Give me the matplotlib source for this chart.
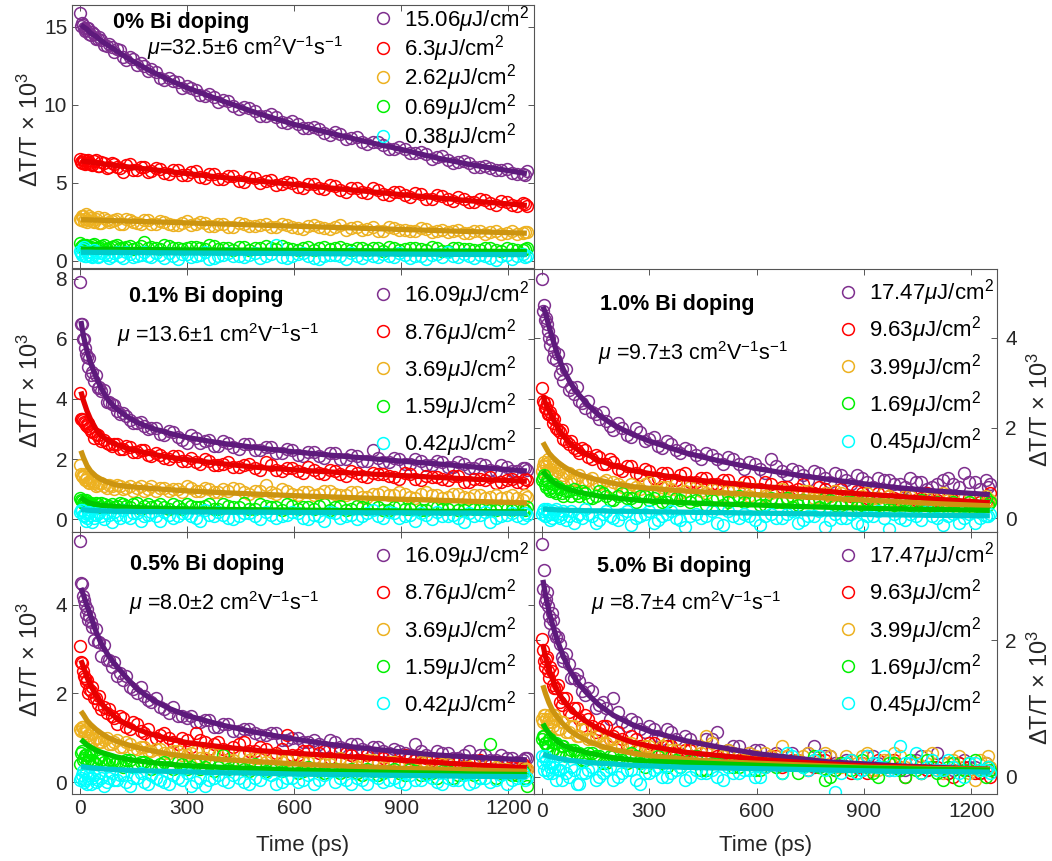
import matplotlib
matplotlib.use("Agg")
import matplotlib.pyplot as plt

plt.rcParams['font.family'] = ['Liberation Sans', 'DejaVu Sans']
plt.rcParams['mathtext.fontset'] = 'custom'
plt.rcParams['mathtext.rm'] = 'Liberation Sans'
plt.rcParams['mathtext.it'] = 'Liberation Sans:italic'
plt.rcParams['mathtext.bf'] = 'Liberation Sans:bold'

# Tiempos de los datos (dos rejillas intercaladas) y de los ajustes (ps)
t_data = [0, 6, 12, 18, 24, 30, 40, 50, 60, 75,
          90, 105, 120, 140, 160, 180, 200, 225, 250, 275,
          300, 325, 350, 375, 400, 430, 460, 490, 520, 550,
          580, 610, 640, 670, 700, 730, 760, 790, 820, 850,
          880, 910, 940, 970, 1000, 1030, 1060, 1090, 1120, 1150,
          1180, 1210, 1240, 1252]
t_data_b = [3, 9, 15, 21, 27, 35, 45, 55, 67, 82,
            97, 112, 130, 150, 170, 190, 212, 237, 262, 287,
            312, 337, 362, 387, 415, 445, 475, 505, 535, 565,
            595, 625, 655, 685, 715, 745, 775, 805, 835, 865,
            895, 925, 955, 985, 1015, 1045, 1075, 1105, 1135, 1165,
            1195, 1225, 1246]
t_fit = [3, 10, 20, 30, 45, 60, 80, 100, 130, 160, 200, 250, 300, 400, 500,
         600, 700, 800, 900, 1000, 1100, 1252]

# ---- 0% Bi ----
bi0_labels = ['15.06', '6.3', '2.62', '0.69', '0.38']
bi0_pur = [15.9, 15.25, 14.95, 14.8, 14.9, 14.5, 14.55, 14.2, 14.15, 13.75,
           13.7, 13.55, 13.1, 13.05, 12.55, 12.5, 12.3, 11.75, 11.7, 11.45,
           11.2, 10.95, 10.6, 10.5, 10.3, 9.9, 9.85, 9.6, 9.3, 9.25,
           8.85, 8.8, 8.5, 8.45, 8.1, 8.15, 7.85, 7.65, 7.6, 7.4,
           7.2, 7.15, 6.9, 6.85, 6.65, 6.45, 6.35, 6.25, 6.0, 5.95,
           5.8, 5.65, 5.55, 5.75]
bi0_pur_b = [15.05, 15.1, 14.75, 14.95, 14.55, 14.7, 14.25, 14.35, 13.85, 13.9,
             13.4, 13.5, 12.9, 12.95, 12.7, 12.15, 12.1, 11.6, 11.55, 11.1,
             11.1, 10.65, 10.7, 10.2, 10.25, 9.75, 9.8, 9.3, 9.4, 8.9,
             8.95, 8.5, 8.6, 8.2, 8.25, 7.8, 7.95, 7.5, 7.6, 7.2,
             7.3, 6.9, 7.0, 6.55, 6.7, 6.3, 6.4, 6.05, 6.1, 5.8,
             5.9, 5.6, 5.5]
bi0_red = [6.55, 6.3, 6.45, 6.25, 6.5, 6.2, 6.4, 6.1, 6.35, 5.95,
           6.25, 6.05, 5.7, 6.2, 5.85, 6.05, 5.75, 5.9, 5.55, 5.8,
           5.5, 5.75, 5.3, 5.6, 5.25, 5.45, 5.05, 5.3, 5.15, 4.85,
           5.05, 4.75, 4.95, 4.7, 4.85, 4.55, 4.7, 4.4, 4.65, 4.3,
           4.45, 4.2, 4.35, 4.0, 4.2, 3.95, 4.1, 3.8, 3.95, 3.7,
           3.85, 3.6, 3.7, 3.5]
bi0_red_b = [6.35, 6.5, 6.2, 6.4, 6.3, 6.15, 6.45, 6.1, 6.3, 6.05,
             6.2, 5.95, 6.15, 5.85, 6.05, 5.7, 5.95, 5.65, 5.85, 5.5,
             5.7, 5.4, 5.6, 5.25, 5.45, 5.1, 5.35, 5.0, 5.2, 4.9,
             5.0, 4.7, 4.9, 4.6, 4.8, 4.45, 4.65, 4.35, 4.55, 4.2,
             4.4, 4.1, 4.3, 3.95, 4.15, 3.85, 4.0, 3.75, 3.9, 3.6,
             3.8, 3.5, 3.65]
bi0_org = [2.7, 2.85, 2.55, 3.0, 2.6, 2.75, 2.5, 2.8, 2.45, 2.65,
           2.55, 2.7, 2.4, 2.6, 2.45, 2.65, 2.35, 2.55, 2.4, 2.3,
           2.55, 2.35, 2.45, 2.25, 2.4, 2.2, 2.35, 2.25, 2.4, 2.15,
           2.3, 2.1, 2.25, 2.2, 2.05, 2.3, 2.1, 2.0, 2.2, 1.95,
           2.1, 2.0, 1.9, 2.05, 1.95, 1.85, 2.0, 1.8, 1.95, 1.85,
           1.75, 1.9, 1.8, 1.85]
bi0_org_b = [2.6, 2.9, 2.7, 2.5, 2.85, 2.55, 2.7, 2.45, 2.75, 2.5,
             2.6, 2.4, 2.7, 2.5, 2.35, 2.6, 2.4, 2.5, 2.3, 2.45,
             2.3, 2.5, 2.25, 2.35, 2.2, 2.45, 2.25, 2.3, 2.15, 2.35,
             2.2, 2.05, 2.3, 2.1, 2.15, 2.0, 2.2, 2.05, 1.95, 2.15,
             2.0, 1.9, 2.1, 1.85, 2.0, 1.9, 1.8, 1.95, 1.75, 1.9,
             1.8, 1.7, 1.85]
bi0_grn = [1.15, 0.95, 0.8, 1.05, 0.85, 0.9, 1.1, 0.8, 0.95, 0.75,
           0.9, 1.0, 0.8, 0.95, 0.85, 1.2, 0.9, 0.75, 0.95, 0.85,
           0.8, 0.9, 0.75, 0.95, 0.85, 0.7, 0.9, 0.8, 0.95, 0.75,
           0.85, 0.7, 0.9, 0.8, 0.75, 0.9, 0.7, 0.85, 0.8, 0.65,
           0.85, 0.75, 0.8, 0.7, 0.85, 0.65, 0.8, 0.75, 0.7, 0.85,
           0.65, 0.75, 0.7, 0.8]
bi0_grn_b = [0.9, 1.0, 0.75, 0.95, 0.85, 1.0, 0.8, 0.9, 1.05, 0.85,
             0.95, 0.8, 0.9, 0.75, 0.95, 0.85, 0.8, 1.0, 0.85, 0.75,
             0.9, 0.8, 1.0, 0.75, 0.85, 0.9, 0.7, 0.85, 0.8, 0.95,
             0.75, 0.85, 0.7, 0.9, 0.8, 0.75, 0.85, 0.7, 0.8, 0.9,
             0.7, 0.8, 0.75, 0.9, 0.65, 0.8, 0.75, 0.7, 0.85, 0.7,
             0.8, 0.7, 0.75]
bi0_cyn = [0.65, 0.4, 0.9, 0.3, 0.55, 0.35, 0.7, 0.25, 0.5, 0.4,
           0.3, 0.6, 0.2, 0.45, 0.35, 0.55, 0.25, 0.4, 0.5, 0.15,
           0.45, 0.3, 0.55, 0.2, 0.4, 0.35, 0.25, 0.5, 0.3, 1.05,
           0.2, 0.45, 0.35, 0.1, 0.4, 0.3, 0.5, 0.2, 0.35, 0.45,
           0.25, 0.4, 0.3, 0.15, 0.45, 0.6, 0.25, 0.35, 0.4, 0.2,
           0.3, 0.1, 0.45, 0.35]
bi0_cyn_b = [0.5, 0.75, 0.3, 0.6, 0.4, 0.25, 0.55, 0.35, 0.45, 0.2,
             0.5, 0.3, 0.6, 0.25, 0.4, 0.3, 0.5, 0.2, 0.35, 0.45,
             0.25, 0.4, 0.15, 0.35, 0.5, 0.3, 0.4, 0.2, 0.45, 0.25,
             0.35, 0.5, 0.2, 0.3, 0.4, 0.15, 0.35, 0.45, 0.25, 0.3,
             0.5, 0.2, 0.35, 0.4, 0.25, 0.3, 0.45, 0.2, 0.35, 0.05,
             0.4, 0.3, 0.25]
bi0_pur_fit = [15.15, 15.0, 14.85, 14.6, 14.4, 14.1, 13.8, 13.5, 13.05, 12.65, 12.15,
               11.6, 11.1, 10.25, 9.45, 8.75, 8.2, 7.65, 7.15, 6.6, 6.15, 5.6]
bi0_red_fit = [6.4, 6.39, 6.36, 6.33, 6.29, 6.24, 6.18, 6.12, 6.04, 5.96, 5.86,
               5.73, 5.6, 5.35, 5.12, 4.9, 4.68, 4.47, 4.25, 4.05, 3.84, 3.56]
bi0_org_fit = [2.65, 2.64, 2.64, 2.63, 2.62, 2.61, 2.59, 2.58, 2.56, 2.54, 2.51,
               2.48, 2.44, 2.37, 2.3, 2.23, 2.16, 2.09, 2.02, 1.95, 1.88, 1.78]
bi0_grn_fit = [0.76, 0.76, 0.76, 0.76, 0.75, 0.75, 0.75, 0.75, 0.74, 0.74, 0.73,
               0.72, 0.71, 0.7, 0.69, 0.68, 0.66, 0.65, 0.64, 0.63, 0.62, 0.61]
bi0_cyn_fit = [0.56, 0.56, 0.56, 0.56, 0.55, 0.55, 0.55, 0.55, 0.54, 0.54, 0.53,
               0.52, 0.51, 0.5, 0.49, 0.48, 0.46, 0.45, 0.44, 0.43, 0.42, 0.41]

# ---- 0.1% Bi ----
bi01_labels = ['16.09', '8.76', '3.69', '1.59', '0.42']
bi01_pur = [7.9, 6.5, 6.0, 5.5, 5.05, 4.8, 4.6, 4.35, 4.25, 3.9,
            3.85, 3.6, 3.55, 3.3, 3.2, 3.1, 3.05, 2.85, 2.95, 2.75,
            2.55, 2.7, 2.6, 2.45, 2.6, 2.4, 2.5, 2.3, 2.4, 2.2,
            2.35, 2.15, 2.25, 2.1, 2.2, 2.0, 2.15, 1.95, 2.3, 1.9,
            2.05, 1.85, 2.0, 1.8, 1.95, 1.75, 1.9, 1.7, 1.85, 1.65,
            1.8, 1.6, 1.7, 1.65]
bi01_pur_b = [6.5, 6.0, 5.7, 5.4, 5.35, 4.9, 4.8, 4.4, 4.3, 3.9,
              3.8, 3.5, 3.45, 3.2, 3.25, 3.0, 3.05, 2.8, 2.9, 2.65,
              2.8, 2.55, 2.65, 2.45, 2.55, 2.35, 2.5, 2.3, 2.4, 2.2,
              2.3, 2.1, 2.25, 2.05, 2.2, 2.0, 2.1, 1.95, 2.05, 1.9,
              2.0, 1.85, 1.95, 1.8, 1.9, 1.75, 1.85, 1.7, 1.8, 1.6,
              1.75, 1.6, 1.7]
bi01_red = [4.2, 3.35, 3.25, 3.15, 3.2, 2.95, 2.7, 2.8, 2.6, 2.55,
            2.45, 2.5, 2.35, 2.4, 2.25, 2.3, 2.1, 2.15, 2.0, 2.1,
            1.95, 1.9, 2.0, 1.8, 1.85, 1.75, 1.8, 1.7, 1.9, 1.65,
            1.7, 1.6, 1.75, 1.55, 1.65, 1.5, 1.6, 1.45, 1.55, 1.5,
            1.4, 1.55, 1.35, 1.45, 1.4, 1.3, 1.45, 1.25, 1.35, 1.4,
            1.25, 1.35, 1.2, 1.3]
bi01_red_b = [3.35, 3.3, 3.2, 3.1, 3.05, 2.9, 2.85, 2.7, 2.65, 2.5,
              2.5, 2.35, 2.45, 2.25, 2.3, 2.15, 2.2, 2.05, 2.1, 1.95,
              2.05, 1.85, 1.95, 1.8, 1.9, 1.75, 1.85, 1.65, 1.8, 1.6,
              1.7, 1.55, 1.65, 1.5, 1.6, 1.45, 1.55, 1.4, 1.5, 1.45,
              1.35, 1.5, 1.3, 1.4, 1.35, 1.45, 1.25, 1.35, 1.3, 1.2,
              1.3, 1.25, 1.35]
bi01_org = [1.8, 1.45, 1.5, 1.35, 1.25, 1.3, 1.2, 1.15, 1.2, 1.05,
            1.1, 1.15, 1.0, 1.1, 1.05, 0.95, 1.1, 1.05, 0.95, 1.0,
            1.1, 0.95, 1.05, 0.9, 1.0, 1.05, 0.9, 0.95, 1.15, 0.85,
            0.95, 0.8, 0.9, 0.85, 0.95, 0.8, 0.9, 0.75, 0.85, 0.9,
            0.8, 0.85, 0.7, 0.9, 0.8, 0.75, 0.85, 0.7, 0.8, 0.75,
            0.7, 0.8, 0.65, 0.75]
bi01_org_b = [1.5, 1.4, 1.3, 1.4, 1.2, 1.25, 1.1, 1.2, 1.1, 1.15,
              1.0, 1.1, 1.05, 0.95, 1.1, 1.0, 0.95, 1.05, 1.0, 0.9,
              1.05, 0.95, 1.0, 0.9, 0.95, 1.0, 0.85, 0.95, 0.9, 1.0,
              0.85, 0.9, 0.8, 0.95, 0.85, 0.8, 0.9, 0.75, 0.85, 0.8,
              0.9, 0.75, 0.85, 0.8, 0.7, 0.85, 0.75, 0.8, 0.7, 0.8,
              0.75, 0.7, 0.8]
bi01_grn = [0.7, 0.6, 0.55, 0.65, 0.5, 0.55, 0.45, 0.5, 0.55, 0.4,
            0.5, 0.45, 0.5, 0.4, 0.55, 0.45, 0.4, 0.5, 0.35, 0.45,
            0.5, 0.4, 0.45, 0.35, 0.5, 0.4, 0.55, 0.35, 0.45, 0.4,
            0.5, 0.35, 0.4, 0.45, 0.3, 0.45, 0.35, 0.4, 0.5, 0.3,
            0.4, 0.35, 0.45, 0.3, 0.4, 0.35, 0.3, 0.45, 0.35, 0.3,
            0.4, 0.3, 0.35, 0.4]
bi01_grn_b = [0.65, 0.55, 0.6, 0.5, 0.55, 0.45, 0.55, 0.4, 0.5, 0.45,
              0.4, 0.55, 0.45, 0.5, 0.35, 0.5, 0.45, 0.4, 0.5, 0.35,
              0.45, 0.4, 0.5, 0.35, 0.45, 0.4, 0.35, 0.5, 0.4, 0.3,
              0.45, 0.4, 0.35, 0.5, 0.4, 0.3, 0.45, 0.35, 0.4, 0.3,
              0.45, 0.35, 0.3, 0.4, 0.35, 0.45, 0.3, 0.35, 0.4, 0.3,
              0.35, 0.4, 0.3]
bi01_cyn = [0.25, 0.3, 0.1, -0.05, 0.2, 0.15, 0.05, 0.25, 0.1, 0.2,
            -0.1, 0.15, 0.3, 0.05, 0.2, 0.1, 0.25, -0.05, 0.15, 0.1,
            0.2, 0.05, 0.3, 0.1, 0.15, 0.0, 0.2, 0.1, 0.25, 0.05,
            0.15, 0.2, 0.0, 0.1, 0.25, 0.05, 0.15, 0.1, 0.3, 0.05,
            0.2, 0.1, -0.05, 0.15, 0.25, 0.1, 0.05, 0.2, 0.15, -0.1,
            0.1, 0.2, 0.05, 0.15]
bi01_cyn_b = [0.3, 0.15, 0.2, 0.05, 0.25, -0.1, 0.15, 0.2, 0.0, 0.15,
              0.25, 0.05, 0.1, 0.2, -0.05, 0.15, 0.1, 0.25, 0.05, 0.2,
              0.1, -0.05, 0.15, 0.25, 0.05, 0.1, 0.2, 0.0, 0.15, 0.1,
              0.25, 0.05, 0.15, -0.05, 0.2, 0.1, 0.0, 0.2, 0.1, 0.25,
              0.05, 0.15, 0.2, 0.0, 0.1, 0.15, -0.1, 0.1, 0.25, 0.05,
              0.15, 0.1, 0.2]
bi01_pur_fit = [6.6, 6.1, 5.6, 5.2, 4.75, 4.35, 3.95, 3.7, 3.43, 3.22, 3.03,
                2.86, 2.72, 2.52, 2.37, 2.24, 2.13, 2.03, 1.93, 1.84, 1.74, 1.6]
bi01_red_fit = [4.25, 3.95, 3.6, 3.32, 3.0, 2.78, 2.6, 2.49, 2.37, 2.27, 2.17,
                2.06, 1.98, 1.84, 1.72, 1.64, 1.57, 1.51, 1.45, 1.39, 1.33, 1.26]
bi01_org_fit = [2.28, 2.05, 1.78, 1.6, 1.43, 1.32, 1.22, 1.14, 1.09, 1.06, 1.02,
                0.98, 0.94, 0.88, 0.83, 0.78, 0.74, 0.7, 0.66, 0.63, 0.59, 0.54]
bi01_grn_fit = [0.72, 0.65, 0.58, 0.53, 0.49, 0.46, 0.44, 0.42, 0.4, 0.38, 0.37,
                0.35, 0.34, 0.32, 0.31, 0.3, 0.29, 0.28, 0.27, 0.26, 0.25, 0.24]
bi01_cyn_fit = [0.32, 0.31, 0.3, 0.29, 0.28, 0.27, 0.27, 0.26, 0.26, 0.25, 0.25,
                0.24, 0.24, 0.23, 0.23, 0.22, 0.22, 0.21, 0.21, 0.2, 0.2, 0.19]

# ---- 1.0% Bi ----
bi1_labels = ['17.47', '9.63', '3.99', '1.69', '0.45']
bi1_pur = [5.3, 4.72, 4.45, 4.15, 3.85, 3.55, 3.5, 3.2, 3.05, 2.85,
           2.75, 2.6, 2.45, 2.35, 2.2, 2.15, 1.95, 2.0, 1.8, 1.9,
           1.75, 1.6, 1.7, 1.5, 1.55, 1.4, 1.45, 1.3, 1.35, 1.2,
           1.25, 1.1, 1.3, 1.05, 1.1, 0.95, 1.05, 0.9, 1.0, 0.85,
           0.95, 0.8, 0.9, 0.85, 0.75, 0.9, 0.8, 0.7, 0.85, 0.75,
           1.0, 0.8, 0.85, 0.75]
bi1_pur_b = [4.6, 4.4, 4.3, 4.0, 3.95, 3.7, 3.65, 3.3, 3.3, 2.9,
             2.9, 2.55, 2.6, 2.3, 2.35, 2.05, 2.1, 1.85, 2.0, 1.7,
             1.8, 1.55, 1.65, 1.45, 1.5, 1.3, 1.4, 1.2, 1.3, 1.1,
             1.2, 1.0, 1.15, 0.95, 1.05, 0.85, 1.0, 0.8, 0.95, 0.75,
             0.9, 0.7, 0.85, 0.75, 0.7, 0.8, 0.65, 0.75, 0.9, 0.7,
             0.8, 0.65, 0.7]
bi1_red = [2.89, 2.55, 2.45, 2.3, 2.35, 2.1, 2.0, 1.9, 1.75, 1.65,
           1.55, 1.45, 1.5, 1.3, 1.35, 1.2, 1.25, 1.05, 1.15, 0.95,
           1.05, 0.9, 1.0, 0.85, 1.0, 0.8, 0.9, 0.75, 0.85, 0.7,
           0.8, 0.65, 0.75, 0.7, 0.6, 0.75, 0.55, 0.65, 0.6, 0.5,
           0.6, 0.45, 0.55, 0.5, 0.4, 0.55, 0.45, 0.35, 0.5, 0.4,
           0.3, 0.45, 0.35, 0.55]
bi1_red_b = [2.6, 2.45, 2.55, 2.3, 2.25, 2.2, 1.95, 1.95, 1.7, 1.7,
             1.5, 1.55, 1.35, 1.4, 1.2, 1.3, 1.1, 1.15, 1.0, 1.1,
             0.9, 1.0, 0.85, 0.95, 0.8, 0.9, 0.75, 0.85, 0.7, 0.8,
             0.65, 0.8, 0.6, 0.7, 0.65, 0.55, 0.7, 0.5, 0.65, 0.5,
             0.55, 0.45, 0.6, 0.45, 0.5, 0.4, 0.55, 0.4, 0.45, 0.3,
             0.45, 0.35, 0.4]
bi1_org = [1.05, 1.25, 1.15, 1.3, 1.1, 1.2, 1.0, 1.1, 0.95, 1.0,
           0.85, 0.95, 0.8, 0.9, 0.75, 0.85, 0.8, 0.7, 0.75, 0.65,
           0.8, 0.6, 0.7, 0.75, 0.6, 0.7, 0.55, 0.65, 0.6, 0.7,
           0.5, 0.6, 0.55, 0.65, 0.5, 0.6, 0.45, 0.55, 0.6, 0.5,
           0.4, 0.55, 0.45, 0.5, 0.35, 0.5, 0.4, 0.45, 0.55, 0.35,
           0.45, 0.4, 0.5, 0.4]
bi1_org_b = [1.15, 1.2, 1.05, 1.25, 1.0, 1.15, 1.05, 0.9, 1.0, 0.85,
             0.9, 0.8, 0.85, 0.75, 0.8, 0.7, 0.75, 0.65, 0.7, 0.75,
             0.6, 0.7, 0.65, 0.55, 0.7, 0.6, 0.65, 0.5, 0.6, 0.55,
             0.65, 0.5, 0.6, 0.45, 0.55, 0.6, 0.45, 0.5, 0.55, 0.4,
             0.5, 0.45, 0.55, 0.4, 0.5, 0.35, 0.45, 0.5, 0.4, 0.45,
             0.35, 0.45, 0.4]
bi1_grn = [0.85, 0.95, 0.7, 0.8, 0.6, 0.75, 0.55, 0.65, 0.5, 0.6,
           0.65, 0.5, 0.55, 0.45, 0.6, 0.5, 0.4, 0.55, 0.45, 0.5,
           0.4, 0.55, 0.35, 0.45, 0.5, 0.4, 0.3, 0.45, 0.35, 0.5,
           0.4, 0.3, 0.45, 0.35, 0.25, 0.4, 0.35, 0.45, 0.3, 0.35,
           0.25, 0.4, 0.3, 0.2, 0.35, 0.3, 0.4, 0.25, 0.3, 0.35,
           0.2, 0.3, 0.45, 0.35]
bi1_grn_b = [0.9, 0.75, 0.85, 0.65, 0.7, 0.6, 0.7, 0.55, 0.6, 0.5,
             0.55, 0.6, 0.45, 0.5, 0.55, 0.4, 0.5, 0.45, 0.35, 0.5,
             0.45, 0.35, 0.5, 0.4, 0.35, 0.45, 0.4, 0.3, 0.45, 0.35,
             0.4, 0.3, 0.35, 0.45, 0.3, 0.35, 0.25, 0.4, 0.3, 0.35,
             0.3, 0.25, 0.35, 0.3, 0.4, 0.25, 0.3, 0.35, 0.2, 0.3,
             0.35, 0.25, 0.3]
bi1_cyn = [0.1, 0.2, 0.05, 0.15, -0.05, 0.1, 0.2, 0.0, 0.15, 0.05,
           -0.1, 0.1, 0.2, 0.05, -0.05, 0.15, 0.0, 0.1, -0.15, 0.05,
           0.15, -0.05, 0.1, 0.0, -0.2, 0.1, 0.05, -0.1, 0.15, 0.0,
           0.05, -0.15, 0.1, 0.0, 0.15, -0.05, 0.05, -0.2, 0.1, 0.0,
           -0.1, 0.05, 0.15, -0.25, 0.0, 0.1, -0.05, 0.05, -0.15, 0.1,
           0.0, -0.1, 0.05, 0.1]
bi1_cyn_b = [0.15, 0.05, 0.2, 0.1, 0.0, 0.15, 0.05, 0.1, -0.05, 0.15,
             0.05, 0.0, 0.1, -0.1, 0.1, 0.05, -0.05, 0.15, 0.0, 0.1,
             -0.1, 0.05, 0.15, -0.05, 0.05, 0.0, 0.15, -0.15, 0.05, 0.1,
             -0.05, 0.05, 0.0, 0.1, -0.1, 0.05, 0.15, -0.05, 0.0, 0.1,
             -0.15, 0.05, 0.0, 0.1, -0.05, 0.05, 0.15, 0.0, 0.05, -0.1,
             0.1, 0.0, 0.05]
bi1_pur_fit = [4.7, 4.55, 4.25, 3.98, 3.6, 3.3, 3.0, 2.77, 2.5, 2.28, 2.07,
               1.87, 1.71, 1.45, 1.26, 1.1, 0.97, 0.86, 0.76, 0.67, 0.6, 0.52]
bi1_red_fit = [2.72, 2.55, 2.38, 2.22, 2.0, 1.82, 1.65, 1.52, 1.4, 1.28, 1.17,
               1.06, 0.99, 0.87, 0.79, 0.71, 0.65, 0.59, 0.53, 0.48, 0.42, 0.34]
bi1_org_fit = [1.68, 1.58, 1.44, 1.35, 1.24, 1.15, 1.05, 0.98, 0.9, 0.84, 0.77,
               0.7, 0.66, 0.6, 0.56, 0.52, 0.48, 0.44, 0.4, 0.36, 0.32, 0.27]
bi1_grn_fit = [1.05, 0.97, 0.88, 0.81, 0.73, 0.68, 0.62, 0.58, 0.53, 0.49, 0.45,
               0.41, 0.38, 0.34, 0.31, 0.29, 0.26, 0.24, 0.22, 0.2, 0.19, 0.17]
bi1_cyn_fit = [0.2, 0.2, 0.19, 0.19, 0.18, 0.18, 0.17, 0.17, 0.16, 0.16, 0.15,
               0.15, 0.14, 0.13, 0.12, 0.11, 0.1, 0.09, 0.08, 0.07, 0.06, 0.05]

# ---- 0.5% Bi ----
bi05_labels = ['16.09', '8.76', '3.69', '1.59', '0.42']
bi05_pur = [5.43, 4.47, 4.1, 3.8, 3.65, 3.6, 3.2, 3.15, 2.85, 2.75,
            2.6, 2.4, 2.3, 2.15, 2.0, 1.95, 1.8, 1.7, 1.55, 1.5,
            1.45, 1.35, 1.4, 1.25, 1.3, 1.15, 1.2, 1.1, 1.05, 1.1,
            0.95, 1.0, 0.9, 0.85, 0.95, 0.8, 0.85, 0.75, 0.8, 0.7,
            0.75, 0.65, 0.85, 0.6, 0.7, 0.65, 0.55, 0.7, 0.6, 0.5,
            0.6, 0.55, 0.5, 0.55]
bi05_pur_b = [4.5, 4.2, 4.0, 3.9, 3.75, 3.5, 3.45, 3.15, 3.1, 2.75,
              2.7, 2.45, 2.4, 2.1, 2.15, 1.85, 1.9, 1.65, 1.7, 1.5,
              1.5, 1.35, 1.4, 1.25, 1.3, 1.15, 1.2, 1.05, 1.1, 0.95,
              1.0, 0.9, 0.95, 0.8, 0.9, 0.75, 0.85, 0.7, 0.8, 0.65,
              0.7, 0.6, 0.7, 0.55, 0.65, 0.55, 0.6, 0.5, 0.6, 0.5,
              0.55, 0.45, 0.55]
bi05_red = [3.07, 2.68, 2.4, 2.25, 2.0, 2.05, 1.9, 1.75, 1.65, 1.55,
            1.5, 1.3, 1.45, 1.2, 1.3, 1.1, 0.95, 1.05, 1.0, 0.85,
            0.95, 1.1, 0.9, 0.85, 0.75, 0.8, 0.9, 0.7, 0.75, 0.65,
            1.05, 0.6, 0.7, 0.65, 0.55, 0.7, 0.6, 0.5, 0.65, 0.55,
            0.45, 0.6, 0.5, 0.55, 0.4, 0.5, 0.45, 0.35, 0.5, 0.4,
            0.45, 0.35, 0.4, 0.3]
bi05_red_b = [2.7, 2.5, 2.35, 2.3, 2.1, 2.15, 1.9, 1.95, 1.7, 1.65,
              1.45, 1.5, 1.25, 1.35, 1.15, 1.2, 1.0, 1.1, 0.9, 1.0,
              0.8, 0.95, 0.75, 0.9, 0.7, 0.85, 0.7, 0.8, 0.6, 0.75,
              0.6, 0.7, 0.55, 0.7, 0.5, 0.65, 0.5, 0.6, 0.45, 0.6,
              0.45, 0.55, 0.4, 0.5, 0.4, 0.5, 0.35, 0.45, 0.3, 0.45,
              0.3, 0.4, 0.35]
bi05_org = [1.2, 1.25, 1.15, 1.2, 1.05, 1.1, 0.95, 1.0, 0.9, 1.0,
            0.85, 0.95, 0.8, 0.85, 0.75, 0.8, 0.7, 0.75, 0.65, 0.7,
            0.6, 0.7, 0.55, 0.65, 0.6, 0.5, 0.6, 0.55, 0.45, 0.6,
            0.5, 0.55, 0.45, 0.5, 0.4, 0.55, 0.45, 0.4, 0.5, 0.35,
            0.45, 0.4, 0.3, 0.45, 0.35, 0.4, 0.3, 0.35, 0.25, 0.4,
            0.3, 0.25, 0.35, 0.3]
bi05_org_b = [1.15, 1.25, 1.1, 1.2, 1.0, 1.1, 1.0, 0.9, 0.95, 0.85,
              0.9, 0.8, 0.9, 0.75, 0.8, 0.7, 0.75, 0.65, 0.7, 0.6,
              0.65, 0.55, 0.7, 0.6, 0.5, 0.65, 0.5, 0.55, 0.6, 0.45,
              0.55, 0.45, 0.5, 0.4, 0.5, 0.45, 0.35, 0.5, 0.4, 0.45,
              0.35, 0.4, 0.45, 0.3, 0.4, 0.3, 0.35, 0.4, 0.25, 0.35,
              0.3, 0.2, 0.3]
bi05_grn = [0.4, 0.7, 0.55, 0.6, 0.5, 0.65, 0.45, 0.55, 0.5, 0.4,
            0.5, 0.45, 0.35, 0.5, 0.4, 0.45, 0.3, 0.4, 0.35, 0.45,
            0.3, 0.4, 0.35, 0.25, 0.6, 0.35, 0.3, 0.4, 0.25, 0.35,
            0.3, 0.2, 0.35, 0.25, 0.3, 0.2, 0.3, 0.15, 0.25, 0.2,
            0.3, 0.15, 0.25, 0.2, 0.1, 0.25, 0.15, 0.2, 0.1, 0.85,
            0.2, 0.15, 0.25, -0.1]
bi05_grn_b = [0.65, 0.5, 0.6, 0.45, 0.6, 0.5, 0.4, 0.55, 0.45, 0.5,
              0.4, 0.45, 0.5, 0.35, 0.45, 0.4, 0.35, 0.45, 0.3, 0.4,
              0.35, 0.3, 0.4, 0.35, 0.3, 0.4, 0.25, 0.35, 0.3, 0.25,
              0.35, 0.25, 0.3, 0.2, 0.3, 0.25, 0.2, 0.3, 0.15, 0.25,
              0.2, 0.3, 0.15, 0.2, 0.25, 0.1, 0.2, 0.15, 0.25, 0.1,
              0.2, 0.15, 0.1]
bi05_cyn = [0.05, 0.15, 0.0, 0.2, 0.1, -0.05, 0.15, 0.05, 0.1, 0.0,
            0.2, 0.05, 0.15, -0.1, 0.1, 0.0, 0.15, 0.05, -0.05, 0.1,
            0.2, 0.0, -0.1, 0.1, 0.05, 0.15, 0.0, 0.1, 0.2, -0.05,
            0.1, 0.0, 0.15, 0.05, 0.25, 0.1, -0.05, 0.05, 0.15, 0.0,
            0.1, -0.05, 0.05, 0.15, 0.0, 0.1, 0.05, -0.05, 0.1, 0.0,
            0.15, 0.05, 0.2, 0.1]
bi05_cyn_b = [0.1, 0.25, 0.05, -0.05, 0.15, 0.1, 0.0, 0.2, -0.1, 0.1,
              0.05, 0.15, 0.0, 0.1, 0.2, -0.05, 0.1, 0.0, 0.15, 0.05,
              -0.1, 0.1, 0.05, 0.15, 0.0, 0.1, -0.05, 0.05, 0.15, 0.0,
              0.1, 0.05, -0.05, 0.15, 0.0, 0.05, 0.1, -0.05, 0.1, 0.05,
              0.0, 0.15, 0.05, 0.1, -0.05, 0.05, 0.15, 0.0, 0.1, 0.05,
              -0.05, 0.1, 0.05]
bi05_pur_fit = [4.38, 4.22, 3.98, 3.74, 3.4, 3.12, 2.85, 2.64, 2.36, 2.1, 1.87,
                1.66, 1.5, 1.28, 1.11, 0.97, 0.85, 0.76, 0.68, 0.61, 0.56, 0.5]
bi05_red_fit = [2.75, 2.6, 2.36, 2.18, 1.96, 1.77, 1.6, 1.46, 1.3, 1.19, 1.08,
                0.97, 0.89, 0.79, 0.71, 0.65, 0.6, 0.55, 0.49, 0.44, 0.39, 0.32]
bi05_org_fit = [1.6, 1.52, 1.39, 1.3, 1.19, 1.1, 1.0, 0.93, 0.85, 0.78, 0.71,
                0.63, 0.58, 0.51, 0.46, 0.41, 0.37, 0.34, 0.31, 0.29, 0.27, 0.24]
bi05_grn_fit = [0.96, 0.91, 0.84, 0.79, 0.72, 0.67, 0.62, 0.57, 0.52, 0.48, 0.44,
                0.4, 0.37, 0.33, 0.3, 0.27, 0.25, 0.23, 0.21, 0.2, 0.18, 0.17]
bi05_cyn_fit = [0.35, 0.34, 0.33, 0.32, 0.31, 0.3, 0.29, 0.28, 0.27, 0.26, 0.25,
                0.24, 0.23, 0.21, 0.2, 0.18, 0.17, 0.16, 0.15, 0.14, 0.13, 0.12]

# ---- 5.0% Bi ----
bi5_labels = ['17.47', '9.63', '3.99', '1.69', '0.45']
bi5_pur = [3.4, 3.02, 2.6, 2.5, 2.25, 2.3, 2.05, 1.95, 1.7, 1.65,
           1.45, 1.4, 1.2, 1.25, 1.05, 1.0, 1.15, 0.8, 0.85, 0.7,
           0.75, 0.6, 0.7, 0.55, 0.6, 0.45, 0.55, 0.65, 0.4, 0.45,
           0.35, 0.4, 0.3, 0.25, 0.35, 0.2, 0.45, 0.3, 0.2, 0.25,
           0.15, 0.3, 0.2, 0.25, 0.1, 0.2, 0.3, 0.15, 0.2, 0.1,
           0.25, 0.15, 0.2, 0.1]
bi5_pur_b = [2.75, 2.55, 2.7, 2.35, 2.4, 2.1, 2.05, 1.75, 1.8, 1.45,
             1.5, 1.25, 1.3, 1.0, 1.1, 0.85, 0.95, 0.75, 0.8, 0.65,
             0.7, 0.55, 0.65, 0.5, 0.55, 0.4, 0.55, 0.35, 0.45, 0.3,
             0.4, 0.25, 0.35, 0.3, 0.2, 0.35, 0.15, 0.3, 0.2, 0.25,
             0.1, 0.3, 0.15, 0.2, 0.1, 0.25, 0.1, 0.35, 0.05, 0.2,
             0.15, 0.05, 0.15]
bi5_red = [2.02, 1.7, 1.72, 1.55, 1.6, 1.35, 1.3, 1.1, 1.15, 0.95,
           1.0, 0.85, 0.9, 0.75, 0.7, 0.75, 0.6, 0.55, 0.6, 0.45,
           0.5, 0.4, 0.45, 0.35, 0.4, 0.3, 0.4, 0.3, 0.35, 0.25,
           0.3, 0.2, 0.3, 0.15, 0.25, 0.2, 0.15, 0.25, 0.1, 0.2,
           0.15, 0.05, 0.25, 0.1, 0.15, 0.2, 0.05, 0.15, 0.1, 0.0,
           0.15, 0.05, 0.1, 0.0]
bi5_red_b = [1.85, 1.6, 1.75, 1.45, 1.55, 1.3, 1.35, 1.05, 1.15, 0.9,
             1.0, 0.75, 0.85, 0.65, 0.75, 0.55, 0.65, 0.45, 0.55, 0.4,
             0.5, 0.35, 0.45, 0.3, 0.4, 0.25, 0.4, 0.2, 0.35, 0.25,
             0.3, 0.15, 0.3, 0.2, 0.25, 0.1, 0.25, 0.15, 0.2, 0.05,
             0.2, 0.1, 0.15, 0.25, 0.0, 0.2, 0.1, 0.15, 0.05, 0.2,
             0.1, 0.05, 0.15]
bi5_org = [0.85, 0.9, 0.85, 0.8, 0.9, 0.75, 0.85, 0.7, 0.8, 0.65,
           0.75, 0.6, 0.7, 0.55, 0.6, 0.5, 0.55, 0.45, 0.5, 0.4,
           0.45, 0.35, 0.5, 0.4, 0.3, 0.45, 0.6, 0.35, 0.4, 0.3,
           0.35, 0.25, 0.3, 0.45, 0.2, 0.3, 0.25, 0.35, 0.15, 0.3,
           0.2, 0.35, 0.1, 0.25, 0.3, 0.2, 0.15, 0.35, 0.05, 0.25,
           0.1, -0.05, 0.2, 0.15]
bi5_org_b = [0.8, 0.9, 0.75, 0.85, 0.8, 0.9, 0.7, 0.8, 0.65, 0.75,
             0.6, 0.7, 0.55, 0.6, 0.5, 0.55, 0.45, 0.5, 0.4, 0.45,
             0.35, 0.45, 0.4, 0.3, 0.45, 0.35, 0.5, 0.3, 0.35, 0.25,
             0.3, 0.35, 0.2, 0.3, 0.25, 0.35, 0.2, 0.3, 0.15, 0.25,
             0.3, 0.1, 0.25, 0.35, 0.15, 0.2, 0.3, 0.1, 0.2, 0.3,
             0.05, 0.25, 0.3]
bi5_grn = [0.55, 0.6, 0.5, 0.45, 0.55, 0.4, 0.5, 0.35, 0.45, 0.3,
           0.4, 0.35, 0.25, 0.35, 0.3, 0.2, 0.3, 0.25, 0.35, 0.2,
           0.25, 0.3, 0.15, 0.25, 0.2, 0.3, 0.1, 0.2, 0.25, 0.15,
           0.2, 0.1, 0.25, 0.05, 0.2, 0.15, 0.3, -0.05, 0.1, 0.2,
           0.05, 0.15, 0.0, 0.2, 0.1, 0.25, 0.05, 0.15, -0.05, 0.2,
           0.1, 0.25, 0.0, 0.1]
bi5_grn_b = [0.6, 0.5, 0.45, 0.55, 0.4, 0.5, 0.35, 0.45, 0.3, 0.4,
             0.3, 0.25, 0.35, 0.3, 0.2, 0.3, 0.25, 0.2, 0.3, 0.15,
             0.25, 0.2, 0.3, 0.15, 0.25, 0.1, 0.2, 0.25, 0.15, 0.2,
             0.1, 0.25, 0.15, 0.2, 0.05, 0.2, 0.15, 0.0, 0.2, 0.1,
             0.25, 0.05, 0.15, 0.2, 0.0, 0.1, 0.25, 0.05, 0.15, -0.05,
             0.2, 0.1, 0.15]
bi5_cyn = [0.3, 0.1, 0.25, 0.05, 0.15, 0.2, -0.05, 0.1, 0.15, 0.0,
           0.1, -0.1, 0.05, 0.15, 0.0, 0.1, -0.05, 0.05, 0.1, -0.1,
           0.05, 0.15, 0.0, 0.1, -0.05, 0.1, 0.05, 0.0, 0.15, 0.05,
           0.1, 0.0, 0.2, 0.05, 0.3, 0.15, 0.25, 0.1, -0.22, 0.2,
           0.05, 0.3, 0.15, 0.1, 0.45, 0.2, 0.05, 0.25, 0.1, 0.15,
           0.0, 0.2, 0.1, 0.05]
bi5_cyn_b = [0.2, 0.3, 0.1, 0.2, 0.05, 0.15, 0.1, -0.05, 0.05, 0.15,
             -0.1, 0.05, 0.1, -0.05, 0.05, 0.15, 0.0, 0.1, -0.05, 0.05,
             0.1, 0.0, 0.05, 0.15, 0.0, 0.05, 0.1, -0.05, 0.05, 0.1,
             0.0, 0.15, 0.25, 0.35, 0.2, 0.1, 0.3, 0.15, 0.05, 0.25,
             0.1, 0.2, 0.3, 0.1, 0.2, 0.35, 0.15, 0.1, 0.25, 0.05,
             0.2, 0.1, 0.15]
bi5_pur_fit = [2.88, 2.66, 2.42, 2.22, 1.97, 1.76, 1.54, 1.38, 1.2, 1.05, 0.9,
               0.77, 0.67, 0.53, 0.43, 0.34, 0.28, 0.22, 0.19, 0.16, 0.14, 0.11]
bi5_red_fit = [1.93, 1.76, 1.57, 1.42, 1.24, 1.12, 0.99, 0.9, 0.79, 0.7, 0.61,
               0.51, 0.45, 0.36, 0.31, 0.26, 0.22, 0.19, 0.16, 0.15, 0.13, 0.11]
bi5_org_fit = [1.34, 1.22, 1.08, 0.97, 0.86, 0.77, 0.67, 0.6, 0.52, 0.46, 0.4,
               0.35, 0.31, 0.26, 0.22, 0.2, 0.18, 0.16, 0.14, 0.13, 0.12, 0.11]
bi5_grn_fit = [0.78, 0.71, 0.64, 0.58, 0.51, 0.46, 0.42, 0.39, 0.35, 0.32, 0.28,
               0.25, 0.23, 0.21, 0.19, 0.17, 0.15, 0.14, 0.13, 0.12, 0.11, 0.1]
bi5_cyn_fit = [0.33, 0.32, 0.3, 0.29, 0.27, 0.26, 0.24, 0.23, 0.21, 0.2, 0.19,
               0.17, 0.16, 0.14, 0.13, 0.12, 0.11, 0.1, 0.09, 0.08, 0.08, 0.07]

# Colores de puntos y de ajustes
colores = ['#7E2F8E', '#FF0000', '#EDB120', '#00F000', '#00FFFF']
colores_fit = ['#5E1A7C', '#E60000', '#CC9410', '#00C800', '#00CCCC']

ylab = r'$\Delta$T/T $\times$ 10$^3$'
tick_col = '#262626'

fig = plt.figure(figsize=(10.52, 8.61), dpi=100)


def panel(rect, datos, datos_b, ajustes, etiquetas, titulo, mu, pos_tit, pos_mu,
          ylim, yticks, derecha, abajo, pos_leg, esp_leg, pos_ylab):
    ax = fig.add_axes(rect)
    for y, y2, c, e in zip(datos, datos_b, colores, etiquetas):
        ax.plot(t_data, y, 'o', mfc='none', mec=c, ms=8.5, mew=1.1,
                label=e + r'$\mu$J/cm$^2$')
        ax.plot(t_data_b, y2, 'o', mfc='none', mec=c, ms=8.5, mew=1.1)
    for y, c in zip(ajustes, colores_fit):
        ax.plot(t_fit, y, '-', color=c, lw=3.8, solid_capstyle='butt')
    ax.set_xlim(-22, 1272)
    ax.set_ylim(ylim)
    ax.set_xticks([0, 300, 600, 900, 1200])
    ax.set_yticks(yticks)
    for s in ax.spines.values():
        s.set_color('#555555')
        s.set_linewidth(0.8)
    ax.tick_params(direction='in', length=4, width=0.7, top=True, right=True,
                   labelsize=15, colors=tick_col, color='#555555')
    if derecha:
        ax.yaxis.tick_right()
        ax.tick_params(left=True, direction='in', pad=6)
        ax.yaxis.set_label_position('right')
        ax.set_ylabel(ylab, fontsize=17, color=tick_col, rotation=90)
    else:
        ax.set_ylabel(ylab, fontsize=17, color=tick_col)
    ax.yaxis.set_label_coords(pos_ylab[0], pos_ylab[1])
    if abajo:
        ax.set_xlabel('Time (ps)', fontsize=16, color=tick_col)
        ax.xaxis.set_label_coords(0.5, -0.155)
    else:
        ax.tick_params(labelbottom=False)
    ax.text(pos_tit[0], pos_tit[1], titulo, transform=ax.transAxes,
            fontsize=15.5, fontweight='bold', va='baseline', ha='left')
    ax.text(pos_mu[0], pos_mu[1], mu, transform=ax.transAxes,
            fontsize=15.5, va='baseline', ha='left')
    ax.legend(loc='upper left', bbox_to_anchor=pos_leg, frameon=False,
              fontsize=16, handlelength=1.0, handletextpad=0.45,
              labelspacing=esp_leg, borderpad=0, borderaxespad=0)
    return ax


unid = r' cm$^2$V$^{-1}$s$^{-1}$'
W = 1052
H = 861

# 0% Bi (arriba)
panel([72 / W, 1 - 268 / H, 462 / W, 263 / H],
      [bi0_pur, bi0_red, bi0_org, bi0_grn, bi0_cyn],
      [bi0_pur_b, bi0_red_b, bi0_org_b, bi0_grn_b, bi0_cyn_b],
      [bi0_pur_fit, bi0_red_fit, bi0_org_fit, bi0_grn_fit, bi0_cyn_fit],
      bi0_labels, '0% Bi doping', r'$\mu$=32.5$\pm$6' + unid,
      (0.089, 0.9125), (0.162, 0.81), (-0.45, 16.4), [0, 5, 10, 15],
      False, False, (0.649, 1.005), -0.07, (-0.062, 0.525))

# 0.1% Bi
panel([72 / W, 1 - 532 / H, 462 / W, 263 / H],
      [bi01_pur, bi01_red, bi01_org, bi01_grn, bi01_cyn],
      [bi01_pur_b, bi01_red_b, bi01_org_b, bi01_grn_b, bi01_cyn_b],
      [bi01_pur_fit, bi01_red_fit, bi01_org_fit, bi01_grn_fit, bi01_cyn_fit],
      bi01_labels, '0.1% Bi doping', r'$\mu$ =13.6$\pm$1' + unid,
      (0.123, 0.8745), (0.097, 0.7224), (-0.43, 8.33), [0, 2, 4, 6, 8],
      False, False, (0.649, 0.96), 0.28, (-0.062, 0.54))

# 1.0% Bi
panel([534 / W, 1 - 532 / H, 463 / W, 263 / H],
      [bi1_pur, bi1_red, bi1_org, bi1_grn, bi1_cyn],
      [bi1_pur_b, bi1_red_b, bi1_org_b, bi1_grn_b, bi1_cyn_b],
      [bi1_pur_fit, bi1_red_fit, bi1_org_fit, bi1_grn_fit, bi1_cyn_fit],
      bi1_labels, '1.0% Bi doping', r'$\mu$ =9.7$\pm$3' + unid,
      (0.143, 0.844), (0.138, 0.654), (-0.31, 5.53), [0, 2, 4],
      True, False, (0.654, 0.968), 0.28, (1.066, 0.464))

# 0.5% Bi
panel([72 / W, 1 - 794 / H, 462 / W, 262 / H],
      [bi05_pur, bi05_red, bi05_org, bi05_grn, bi05_cyn],
      [bi05_pur_b, bi05_red_b, bi05_org_b, bi05_grn_b, bi05_cyn_b],
      [bi05_pur_fit, bi05_red_fit, bi05_org_fit, bi05_grn_fit, bi05_cyn_fit],
      bi05_labels, '0.5% Bi doping', r'$\mu$ =8.0$\pm$2' + unid,
      (0.126, 0.8555), (0.123, 0.7034), (-0.27, 5.64), [0, 2, 4],
      False, True, (0.649, 0.968), 0.28, (-0.062, 0.513))

# 5.0% Bi
panel([534 / W, 1 - 794 / H, 463 / W, 262 / H],
      [bi5_pur, bi5_red, bi5_org, bi5_grn, bi5_cyn],
      [bi5_pur_b, bi5_red_b, bi5_org_b, bi5_grn_b, bi5_cyn_b],
      [bi5_pur_fit, bi5_red_fit, bi5_org_fit, bi5_grn_fit, bi5_cyn_fit],
      bi5_labels, '5.0% Bi doping', r'$\mu$ =8.7$\pm$4' + unid,
      (0.136, 0.848), (0.123, 0.7034), (-0.25, 3.58), [0, 2],
      True, True, (0.654, 0.968), 0.28, (1.066, 0.407))

fig.savefig('out.png', dpi=100)
